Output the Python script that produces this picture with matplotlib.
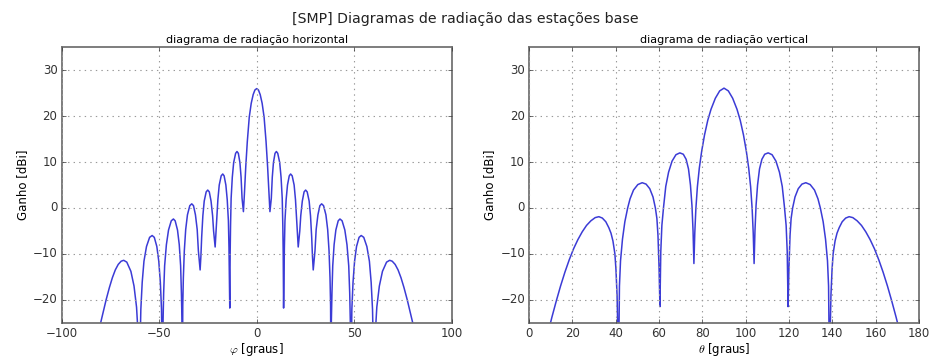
import numpy as np
import matplotlib
matplotlib.use('Agg')
import matplotlib.pyplot as plt

# diagrama horizontal: angulo phi [graus] e ganho [dBi]
phi = [-81.5, -80.0, -78.6, -77.2, -75.5, -74.0, -72.5, -71.0, -69.5, -68.2, -66.6, -64.5, -62.9, -61.6, -60.8, -60.4,
       -60.0, -59.7, -59.4, -58.7, -57.8, -56.5, -54.9, -53.6, -52.5, -51.2, -50.2, -49.4, -48.8, -48.6,
       -48.3, -48.0, -47.7, -47.2, -46.3, -45.2, -43.8, -42.7, -41.8, -40.6, -39.7, -39.0, -38.6, -38.3,
       -38.1, -37.9, -37.6, -37.1, -36.4, -35.5, -34.3, -33.3, -32.4, -31.4, -30.5, -29.9,
       -29.0, -28.6, -28.2, -27.6, -26.9, -25.9, -25.1, -24.3, -23.4, -22.6, -22.1,
       -21.3, -20.9, -20.5, -19.9, -19.2, -18.2, -17.4, -16.7, -15.8, -15.1, -14.5, -14.2, -14.0,
       -13.8, -13.6, -13.4, -13.1, -12.5, -11.8, -10.8, -10.1, -9.4, -8.6, -8.0, -7.5,
       -6.8, -6.3, -5.6, -4.8, -3.8, -2.8, -1.8, -0.9,
       0.0, 0.9, 1.8, 2.8, 3.8, 4.8, 5.6, 6.3, 6.8,
       7.5, 8.0, 8.6, 9.4, 10.1, 10.8, 11.8, 12.5, 13.1, 13.4, 13.6, 13.8,
       14.0, 14.2, 14.5, 15.1, 15.8, 16.7, 17.4, 18.2, 19.2, 19.9, 20.5, 20.9, 21.3,
       22.1, 22.6, 23.4, 24.3, 25.1, 25.9, 26.9, 27.6, 28.2, 28.6, 29.0,
       29.9, 30.5, 31.4, 32.4, 33.3, 34.3, 35.5, 36.4, 37.1, 37.6, 37.9, 38.1,
       38.3, 38.6, 39.0, 39.7, 40.6, 41.8, 42.7, 43.8, 45.2, 46.3, 47.2, 47.7, 48.0, 48.3,
       48.6, 48.8, 49.4, 50.2, 51.2, 52.5, 53.6, 54.9, 56.5, 57.8, 58.7, 59.4, 59.7, 60.0,
       60.4, 60.8, 61.6, 62.9, 64.5, 66.6, 68.2, 69.5, 71.0, 72.5, 74.0, 75.5, 77.2, 78.6, 80.0, 81.5]
ganho_h = [-28.0, -25.0, -22.5, -20.0, -17.3, -15.2, -13.5, -12.3, -11.6, -11.4, -11.8, -13.8, -17.0, -21.6, -27.5, -33.5,
           -40.0, -28.1, -22.1, -16.2, -11.6, -8.4, -6.4, -6.0, -6.4, -8.4, -11.6, -16.2, -22.1, -28.1,
           -40.0, -24.5, -18.5, -12.6, -8.0, -4.8, -2.8, -2.4, -2.8, -4.8, -8.0, -12.6, -18.5, -24.5,
           -40.0, -21.2, -15.2, -9.3, -4.7, -1.5, 0.5, 0.9, 0.5, -1.5, -4.7, -9.3,
           -13.5, -10.5, -6.3, -1.7, 1.5, 3.5, 3.9, 3.5, 1.5, -1.7, -5.0,
           -8.5, -5.5, -2.8, 1.8, 5.0, 7.0, 7.4, 7.0, 5.0, 1.8, -2.8, -8.7, -14.7,
           -21.8, -9.8, -3.8, 2.1, 6.7, 9.9, 11.9, 12.3, 11.9, 9.9, 6.7, 2.1,
           -0.8, 3.0, 9.0, 14.5, 19.8, 22.8, 24.7, 25.7,
           26.0, 25.7, 24.7, 22.8, 19.8, 14.5, 9.0, 3.0, -0.8,
           2.1, 6.7, 9.9, 11.9, 12.3, 11.9, 9.9, 6.7, 2.1, -3.8, -9.8, -21.8,
           -14.7, -8.7, -2.8, 1.8, 5.0, 7.0, 7.4, 7.0, 5.0, 1.8, -2.8, -5.5, -8.5,
           -5.0, -1.7, 1.5, 3.5, 3.9, 3.5, 1.5, -1.7, -6.3, -10.5, -13.5,
           -9.3, -4.7, -1.5, 0.5, 0.9, 0.5, -1.5, -4.7, -9.3, -15.2, -21.2, -40.0,
           -24.5, -18.5, -12.6, -8.0, -4.8, -2.8, -2.4, -2.8, -4.8, -8.0, -12.6, -18.5, -24.5, -40.0,
           -28.1, -22.1, -16.2, -11.6, -8.4, -6.4, -6.0, -6.4, -8.4, -11.6, -16.2, -22.1, -28.1, -40.0,
           -33.5, -27.5, -21.6, -17.0, -13.8, -11.8, -11.4, -11.6, -12.3, -13.5, -15.2, -17.3, -20.0, -22.5, -25.0, -28.0]

# diagrama vertical: angulo theta [graus] e ganho [dBi]
theta = [8.0, 9.0, 10.5, 12.5, 14.5, 16.5, 18.5, 20.5, 22.5, 24.5, 26.5, 28.5, 30.5, 32.2, 33.8, 35.4, 36.8, 37.8, 38.7,
         39.6, 40.1, 40.6, 41.0,
         41.2, 41.7, 42.2, 43.1, 44.2, 45.5, 46.6, 48.2, 50.2, 52.2, 54.0, 55.7, 57.2, 58.3, 59.0, 59.5, 60.0,
         60.4, 60.8, 61.3, 62.1, 63.1, 64.4, 66.0, 67.8, 69.6, 71.2, 72.5, 73.6, 74.5, 75.2, 75.7,
         76.1, 76.5, 77.0, 77.7, 78.6, 79.7, 81.0, 82.5, 84.0, 86.0, 88.0,
         90.0, 92.0, 94.0, 96.0, 97.5, 99.0, 100.3, 101.4, 102.3, 103.0, 103.5, 103.9,
         104.3, 104.8, 105.5, 106.4, 107.5, 108.8, 110.4, 112.2, 114.0, 115.6, 116.9, 117.9, 118.7, 119.2, 119.6,
         120.0, 120.5, 121.0, 121.7, 122.8, 124.3, 126.0, 127.8, 129.8, 131.8, 133.4, 134.5, 135.8, 136.9, 137.8, 138.3, 138.8,
         139.0, 139.4, 139.9, 140.4, 141.3, 142.2, 143.2, 144.6, 146.2, 147.8, 149.5, 151.5, 153.5, 155.5, 157.5, 159.5,
         161.5, 163.5, 165.5, 167.5, 169.5, 171.0, 172.0]
ganho_v = [-28.5, -26.6, -23.8, -20.3, -17.0, -14.0, -11.3, -8.9, -6.9, -5.2, -3.8, -2.8, -2.1, -1.9, -2.2, -3.0, -4.3, -5.5, -7.2,
           -10.0, -13.5, -19.0, -28.0,
           -40.0, -17.0, -11.5, -6.8, -3.0, 0.0, 2.0, 3.9, 5.1, 5.5, 5.2, 4.2, 2.4, 0.0, -2.3, -6.0, -13.0,
           -21.5, -9.5, -3.8, 0.3, 4.7, 7.8, 10.2, 11.6, 12.0, 11.7, 10.6, 8.5, 5.0, 0.5, -5.0,
           -12.1, -5.5, -0.2, 4.6, 8.7, 12.4, 15.9, 19.1, 21.5, 23.9, 25.5,
           26.1, 25.5, 23.9, 21.5, 19.1, 15.9, 12.4, 8.7, 4.6, -0.2, -5.5, -12.1,
           -5.0, 0.5, 5.0, 8.5, 10.6, 11.7, 12.0, 11.6, 10.2, 7.8, 4.7, 0.3, -3.8, -9.5, -21.5,
           -13.0, -6.0, -2.3, 0.0, 2.4, 4.2, 5.2, 5.5, 5.1, 3.9, 2.0, 0.0, -3.0, -6.8, -11.5, -17.0, -40.0,
           -28.0, -19.0, -13.5, -10.0, -7.2, -5.5, -4.3, -3.0, -2.2, -1.9, -2.1, -2.8, -3.8, -5.2, -6.9, -8.9,
           -11.3, -14.0, -17.0, -20.3, -23.8, -26.6, -28.5]

xticks_h = [-100, -50, 0, 50, 100]
xticks_v = [0, 20, 40, 60, 80, 100, 120, 140, 160, 180]
yticks = [-20, -10, 0, 10, 20, 30]

plt.style.use('classic')
plt.rcParams['figure.facecolor'] = 'white'
plt.rcParams['font.family'] = ['DejaVu Sans']

fig = plt.figure(figsize=(9.3, 3.61), dpi=100)
fig.suptitle('[SMP] Diagramas de radiação das estações base', fontsize=10.2, y=0.968, color='#222222')

ax1 = fig.add_axes([0.0663, 0.106, 0.4194, 0.763])
ax2 = fig.add_axes([0.569, 0.106, 0.419, 0.763])

ax1.plot(phi, ganho_h, color='#3b3bd6', lw=1.1)
ax2.plot(theta, ganho_v, color='#3b3bd6', lw=1.1)

ax1.set_xlim(-100, 100)
ax1.set_xticks(xticks_h)
ax1.set_xlabel(r'$\varphi$ [graus]', fontsize=8.5, labelpad=1)
ax1.set_title('diagrama de radiação horizontal', fontsize=8, pad=3)

ax2.set_xlim(0, 180)
ax2.set_xticks(xticks_v)
ax2.set_xlabel(r'$\theta$ [graus]', fontsize=8.5, labelpad=1)
ax2.set_title('diagrama de radiação vertical', fontsize=8, pad=3)

for ax in (ax1, ax2):
    ax.set_ylim(-25, 35)
    ax.set_yticks(yticks)
    ax.set_ylabel('Ganho [dBi]', fontsize=8.5, labelpad=3)
    ax.grid(True, color='0.6', linestyle=':', linewidth=0.8)
    ax.tick_params(labelsize=8.5, colors='#333333', length=3, pad=3)
    for s in ax.spines.values():
        s.set_color('0.45')
        s.set_linewidth(1.3)

fig.savefig('out.png', dpi=100)
